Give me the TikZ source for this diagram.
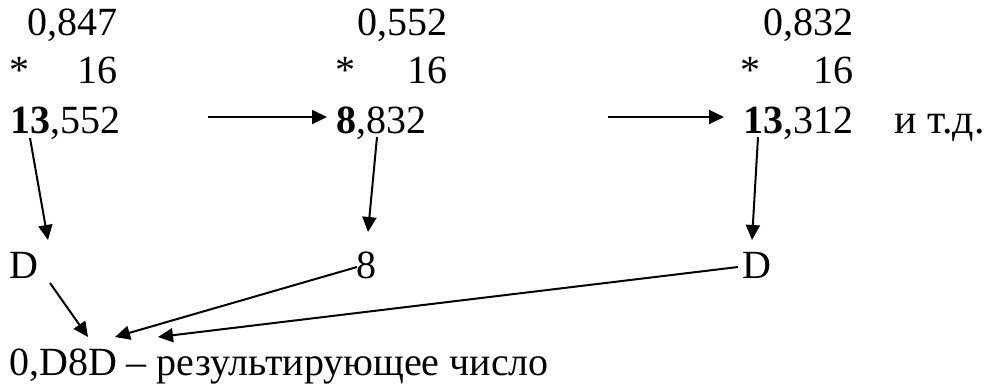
\documentclass[tikz,border=0pt]{standalone}
\usepackage{fontspec}
\setmainfont{Liberation Serif}
\usetikzlibrary{arrows.meta}
\begin{document}
\begin{tikzpicture}[x=1pt,y=-1pt,
  txt/.style={inner sep=0pt,font=\fontsize{40}{42}\selectfont},
  conn/.style={line width=2pt,-{Triangle[length=15pt,width=14pt]}}]
\useasboundingbox (0,0) rectangle (984,385);
% column 1
\node[txt,anchor=base east] (a1) at (118,36) {0,847};
\node[txt,anchor=base west] (s1) at (9,84) {*};
\node[txt,anchor=base east] (m1) at (118,84) {16};
\node[txt,anchor=base west] (b1) at (10,133) {\textbf{13}};
\node[txt,anchor=base west] (f1) at (b1.base east) {,552};
% column 2
\node[txt,anchor=base east] (a2) at (448,36) {0,552};
\node[txt,anchor=base west] (s2) at (335,84) {*};
\node[txt,anchor=base east] (m2) at (448,84) {16};
\node[txt,anchor=base west] (b2) at (336,133) {\textbf{8}};
\node[txt,anchor=base west] (f2) at (b2.base east) {,832};
% column 3
\node[txt,anchor=base east] (a3) at (854,36) {0,832};
\node[txt,anchor=base west] (s3) at (740,84) {*};
\node[txt,anchor=base east] (m3) at (854,84) {16};
\node[txt,anchor=base west] (b3) at (743,133) {\textbf{13}};
\node[txt,anchor=base west] (f3) at (b3.base east) {,312};
\node[txt,anchor=base west,font=\fontsize{42}{44}\selectfont] (etc) at (894,133) {и т.д.};
% digits row
\node[txt,anchor=base west] (d1) at (9,278) {D};
\node[txt,anchor=base west] (d2) at (356,278) {8};
\node[txt,anchor=base west] (d3) at (742,278) {D};
% result
\node[txt,anchor=base west] (res) at (9,375) {0,D8D – результирующее число};
% horizontal arrows
\coordinate (h1s) at (208,117); \coordinate (h1e) at (327,117);
\coordinate (h2s) at (608,117); \coordinate (h2e) at (724,117);
\draw[conn] (h1s) -- (h1e);
\draw[conn] (h2s) -- (h2e);
% down arrows
\draw[conn] ([shift={(20,5)}]b1.base west) -- ([shift={(39,-38)}]d1.base west);
\draw[conn] ([shift={(41,4)}]b2.base west) -- ([shift={(12,-46)}]d2.base west);
\draw[conn] ([shift={(15,4)}]b3.base west) -- ([shift={(10,-38)}]d3.base west);
% converging arrows
\draw[conn] ([shift={(41,5)}]d1.base west) -- ([shift={(79,-38)}]res.base west);
\draw[conn] ([shift={(1,-11)}]d2.base west) -- ([shift={(106,-38)}]res.base west);
\draw[conn] ([shift={(-4,-11)}]d3.base west) -- ([shift={(149,-38)}]res.base west);
\end{tikzpicture}
\end{document}
